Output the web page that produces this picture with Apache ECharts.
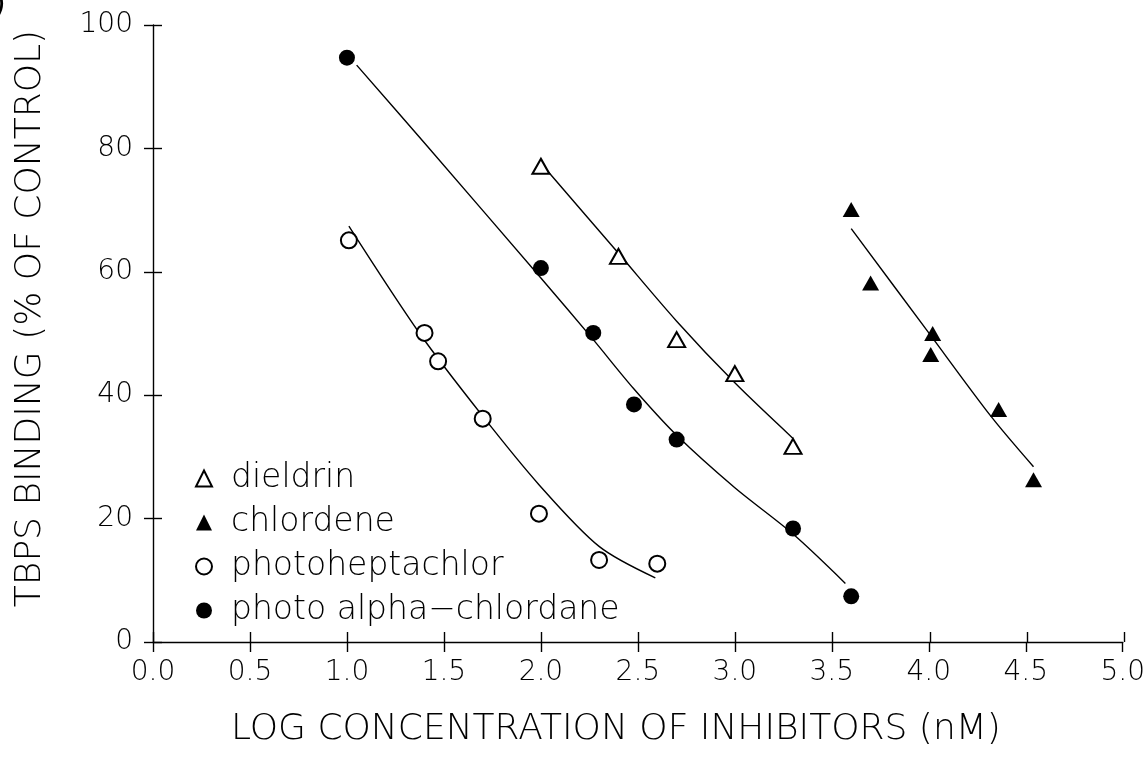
<!DOCTYPE html>
<html>
<head>
<meta charset="utf-8">
<script src="https://cdn.jsdelivr.net/npm/echarts@6/dist/echarts.min.js"></script>
<style>
  html, body { margin: 0; padding: 0; background: #fff; }
  #chart { width: 1148px; height: 761px; }
</style>
</head>
<body>
<div id="chart"></div>
<script>
// ---- Data ----
const xTicks = [0.0, 0.5, 1.0, 1.5, 2.0, 2.5, 3.0, 3.5, 4.0, 4.5, 5.0];
const yTicks = [0, 20, 40, 60, 80, 100];

const seriesNames = ['dieldrin', 'chlordene', 'photoheptachlor', 'photo alpha\u2212chlordane'];

// measured points [log conc, % of control]
const dieldrinPts = [[2.0, 77.1], [2.4, 62.5], [2.7, 49.0], [3.0, 43.5], [3.3, 31.7]];
const chlordenePts = [[3.6, 70.1], [3.7, 58.2], [4.02, 50.0], [4.01, 46.6], [4.36, 37.7], [4.54, 26.3]];
const photoheptachlorPts = [[1.01, 65.1], [1.40, 50.1], [1.47, 45.5], [1.70, 36.2], [1.99, 20.8], [2.30, 13.3], [2.60, 12.7]];
const photoAlphaPts = [[1.0, 94.7], [2.0, 60.6], [2.27, 50.1], [2.48, 38.5], [2.70, 32.8], [3.30, 18.4], [3.60, 7.4]];

// fitted curves, points
const dieldrinCurve = [[2.03, 76.5], [2.4, 63.0], [2.7, 52.0], [3.0, 42.0], [3.3, 33.0]];
const chlordeneCurve = [[3.6, 67.0], [4.0, 50.1], [4.32, 36.6], [4.54, 28.4]];
const photoheptachlorCurve = [[1.01, 67.4], [1.375, 50.0], [1.7, 36.6], [1.99, 25.5], [2.3, 15.5], [2.59, 10.4]];
const photoAlphaCurve = [[1.05, 93.5], [1.41, 80.5], [2.0, 59.0], [2.27, 49.0], [2.48, 41.0], [2.7, 33.5], [3.0, 25.0], [3.3, 17.5], [3.57, 9.5]];

const FONT = 'DejaVu Sans';
const INK = '#000';

const grid = { left: 153, right: 24, top: 25, bottom: 119 };

function curve(data) {
  return {
    type: 'line', data: data, smooth: 0.3, symbol: 'none',
    lineStyle: { color: INK, width: 1.4 }, silent: true, z: 2
  };
}

const option = {
  animation: false,
  backgroundColor: '#fff',
  textStyle: { fontFamily: FONT, color: INK },
  grid: [
    Object.assign({}, grid),
    Object.assign({}, grid)
  ],
  xAxis: [
    {
      type: 'value', gridIndex: 0, min: 0, max: 5, interval: 0.5,
      name: 'LOG CONCENTRATION OF INHIBITORS (nM)',
      nameLocation: 'middle', nameGap: 70,
      nameTextStyle: { fontFamily: FONT, fontSize: 36, color: INK, fontWeight: 200, padding: [0, 44, 0, 0] },
      axisLine: { show: true, lineStyle: { color: INK, width: 1.4 } },
      axisTick: { show: true, inside: false, length: 10, lineStyle: { color: INK, width: 1.4 } },
      axisLabel: { fontFamily: FONT, fontSize: 28, color: INK, fontWeight: 200, margin: 17,
        formatter: v => v.toFixed(1) },
      splitLine: { show: false }
    },
    {
      type: 'value', gridIndex: 1, min: 0, max: 5, interval: 0.5,
      axisLine: { show: false },
      axisTick: { show: true, inside: true, length: 10, lineStyle: { color: INK, width: 1.4 } },
      axisLabel: { show: false },
      splitLine: { show: false }
    }
  ],
  yAxis: [
    {
      type: 'value', gridIndex: 0, min: 0, max: 100, interval: 20,
      name: 'TBPS BINDING (% OF CONTROL)',
      nameLocation: 'middle', nameGap: 104, nameRotate: 90,
      nameTextStyle: { fontFamily: FONT, fontSize: 36, color: INK, fontWeight: 200, padding: [0, 0, 0, 30] },
      axisLine: { show: true, lineStyle: { color: INK, width: 1.4 } },
      axisTick: { show: true, inside: false, length: 9, lineStyle: { color: INK, width: 1.4 } },
      axisLabel: { fontFamily: FONT, fontSize: 28, color: INK, fontWeight: 200, margin: 20 },
      splitLine: { show: false }
    },
    {
      type: 'value', gridIndex: 1, min: 0, max: 100, interval: 20,
      axisLine: { show: false },
      axisTick: { show: true, inside: true, length: 9, lineStyle: { color: INK, width: 1.4 } },
      axisLabel: { show: false },
      splitLine: { show: false }
    }
  ],
  legend: {
    orient: 'vertical', left: 190, top: 457,
    itemWidth: 16, itemHeight: 16, itemGap: 11,
    data: seriesNames,
    textStyle: { fontFamily: FONT, fontSize: 33, lineHeight: 33, color: INK, fontWeight: 200, padding: [0, 0, 0, 14] },
    selectedMode: false
  },
  graphic: [
    { type: 'text', left: -6, top: -10, style: { text: ')', fontSize: 30, fill: INK, fontFamily: FONT } }
  ],
  series: [
    curve(dieldrinCurve),
    curve(chlordeneCurve),
    curve(photoheptachlorCurve),
    curve(photoAlphaCurve),
    {
      name: seriesNames[0], type: 'scatter', data: dieldrinPts,
      symbol: 'emptyTriangle', symbolSize: [17, 15],
      itemStyle: { color: INK, borderColor: INK, borderWidth: 1.6, opacity: 1 }, z: 3
    },
    {
      name: seriesNames[1], type: 'scatter', data: chlordenePts,
      symbol: 'triangle', symbolSize: [17, 15],
      itemStyle: { color: INK, opacity: 1 }, z: 3
    },
    {
      name: seriesNames[2], type: 'scatter', data: photoheptachlorPts,
      symbol: 'emptyCircle', symbolSize: 16,
      itemStyle: { color: INK, borderColor: INK, borderWidth: 1.6, opacity: 1 }, z: 3
    },
    {
      name: seriesNames[3], type: 'scatter', data: photoAlphaPts,
      symbol: 'circle', symbolSize: 16,
      itemStyle: { color: INK, opacity: 1 }, z: 3
    }
  ]
};

const chart = echarts.init(document.getElementById('chart'), null, { renderer: 'canvas' });
chart.setOption(option);
</script>
</body>
</html>
